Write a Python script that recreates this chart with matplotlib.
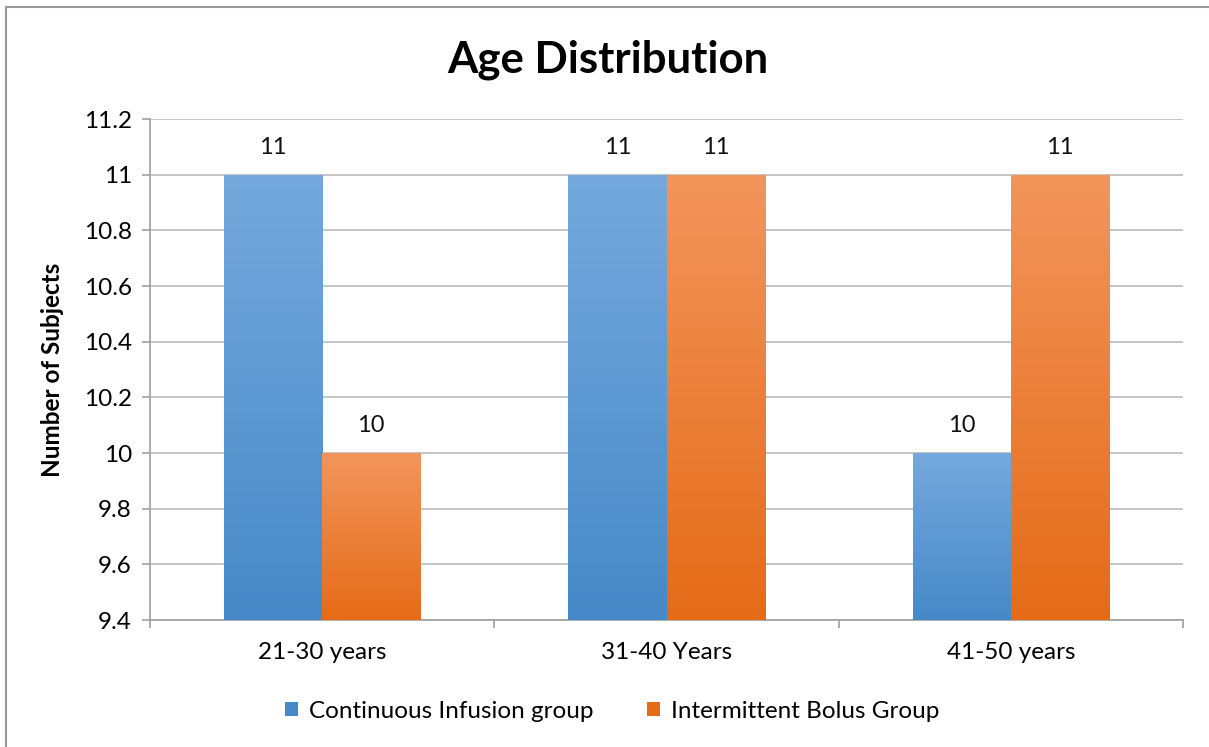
import matplotlib.pyplot as plt
import matplotlib.colors as mcolors
from matplotlib.lines import Line2D
from matplotlib.patches import Patch
import numpy as np

plt.rcParams['font.family'] = ['Lato', 'DejaVu Sans']

categories = ['21-30 years', '31-40 Years', '41-50 years']
continuous = [11, 11, 10]
bolus = [10, 11, 11]
series_names = ['Continuous Infusion group', 'Intermittent Bolus Group']

blue_top, blue_bot = '#75A9DD', '#4689C8'
orange_top, orange_bot = '#F2955C', '#E56B17'

fig = plt.figure(figsize=(12.09, 7.47), dpi=100)
ax = fig.add_axes([150 / 1209, 1 - 620 / 747, 1033 / 1209, 501 / 747])

ymin, ymax = 9.4, 11.2
width = 0.285
x = np.arange(len(categories))


def gradient_bars(xs, vals, top, bot):
    bars = ax.bar(xs, [v - ymin for v in vals], width, bottom=ymin,
                  color=bot, linewidth=0, zorder=2)
    cmap = mcolors.LinearSegmentedColormap.from_list('g', [bot, top])
    grad = np.linspace(0, 1, 256).reshape(-1, 1)
    for b, v in zip(bars, vals):
        x0 = b.get_x()
        im = ax.imshow(grad, cmap=cmap, aspect='auto', origin='lower',
                       extent=(x0, x0 + width, ymin, v), zorder=3,
                       interpolation='bicubic')
        im.set_clip_path(b)
        ax.annotate(f'{v:g}', (x0 + width / 2, v), xytext=(0, 19.5),
                    textcoords='offset points', ha='center', va='center',
                    fontsize=17, color='#111111')
    return bars


gradient_bars(x - width / 2, continuous, blue_top, blue_bot)
gradient_bars(x + width / 2, bolus, orange_top, orange_bot)

ax.set_xlim(-0.5, 2.5)
ax.set_ylim(ymin, ymax)
ticks = np.round(np.arange(9.4, 11.21, 0.2), 1)
ax.set_yticks(ticks)
ax.set_yticklabels([f'{t:g}' for t in ticks])
ax.yaxis.grid(True, color='#BBBBBB', linewidth=1.2, zorder=0)
ax.set_axisbelow(True)

ax.set_xticks(x)
ax.set_xticklabels(categories)
ax.set_xticks([-0.5, 0.5, 1.5, 2.5], minor=True)
ax.tick_params(axis='x', which='major', length=0, pad=16, labelsize=17.5)
ax.tick_params(axis='x', which='minor', length=6, color='#A0A0A0', width=1.2)
ax.tick_params(axis='y', length=6, color='#A0A0A0', width=1.2, labelsize=17.5, pad=7)

for s in ['top', 'right']:
    ax.spines[s].set_visible(False)
for s in ['left', 'bottom']:
    ax.spines[s].set_color('#A0A0A0')
    ax.spines[s].set_linewidth(1.2)

ax.set_ylabel('Number of Subjects', fontsize=17.5, fontweight='bold', labelpad=14)
fig.text(608 / 1209, 1 - 60 / 747, 'Age Distribution', ha='center', va='center',
         fontsize=31.5, fontweight='bold')

handles = [Patch(facecolor=blue_bot, edgecolor='none'),
           Patch(facecolor=orange_bot, edgecolor='none')]
fig.legend(handles, series_names, loc='center', bbox_to_anchor=(612 / 1209, 1 - 711 / 747),
           ncol=2, frameon=False, fontsize=17.5, handlelength=0.55, handleheight=0.55,
           handletextpad=0.45, columnspacing=2.2)

fig.add_artist(Line2D([6 / 1209, 6 / 1209], [0, 1 - 7 / 747], transform=fig.transFigure,
                      color='#9A9A9A', linewidth=1.5))
fig.add_artist(Line2D([6 / 1209, 1], [1 - 7 / 747, 1 - 7 / 747], transform=fig.transFigure,
                      color='#9A9A9A', linewidth=1.5))

fig.savefig('out.png', dpi=100)
